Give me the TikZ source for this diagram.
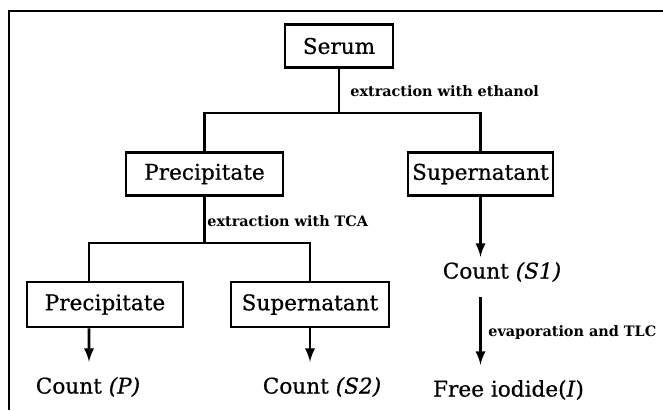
\documentclass[tikz,border=0pt]{standalone}
\usepackage{fontspec}
\setmainfont{DejaVu Serif}
\newfontfamily\labelfont{DejaVu Serif}[FakeBold=0.6]
\tikzset{
  box/.style={draw, line width=1.6pt, inner sep=0pt, minimum height=0.86cm, font=\labelfont\fontsize{12.3}{14}\selectfont},
  result/.style={inner sep=0pt, font=\labelfont\fontsize{12.3}{14}\selectfont},
  note/.style={inner sep=0pt, anchor=west, font=\bfseries\fontsize{8.2}{10}\selectfont},
  link/.style={line width=1.6pt},
  flow/.style={line width=1.6pt,->,>=latex}
}
\begin{document}
\begin{tikzpicture}
\useasboundingbox (0,0) rectangle (13.26,-8.2);
% frame
\draw [link] (13.26,-0.22) -- (0.18,-0.22) -- (0.18,-8.2);
% boxes
\node [box, minimum width=2.16cm] (serum) at (6.78,-0.92) {Serum};
\node [box, minimum width=3.14cm] (prec1) at (4.09,-3.48) {Precipitate};
\node [box, minimum width=2.90cm] (super1) at (9.61,-3.48) {Supernatant};
\node [box, minimum width=3.12cm, minimum height=0.9cm] (prec2) at (2.10,-6.09) {Precipitate};
\node [box, minimum width=3.16cm, minimum height=0.9cm] (super2) at (6.20,-6.09) {Supernatant};
% results
\node [result] (countP) at (1.76,-7.74) {Count \textit{(P)}};
\node [result] (countS2) at (6.44,-7.74) {Count \textit{(S2)}};
\node [result] (countS1) at (10.04,-5.44) {Count \textit{(S1)}};
\node [result] (iodide) at (10.17,-7.80) {Free iodide(\textit{I})};
% branches
\coordinate (split1) at (6.78,-2.26);
\coordinate (split2) at (4.09,-4.86);
\draw [link] (serum) -- (split1);
\draw [link] (prec1.north) |- (split1) -| (super1.north);
\draw [link] (prec1) -- (split2);
\draw [link] ([xshift=-0.32cm]prec2.north) |- (split2) -| (super2.north);
\node [note] at (7.0,-1.82) {extraction with ethanol};
\node [note] at (4.14,-4.42) {extraction with TCA};
% counts
\draw [flow, shorten >=0.3cm] ([xshift=-0.32cm]prec2.south) -- ([xshift=0.02cm]countP.north);
\draw [flow, shorten >=0.3cm] (super2.south) -- (super2.south |- countS2.north);
\draw [flow, shorten >=0.1cm] (super1.south) -- (super1.south |- countS1.north);
\draw [flow, shorten <=0.3cm, shorten >=0.3cm] (super1.south |- countS1.south) -- (super1.south |- iodide.north);
\node [note] at (9.76,-6.66) {evaporation and TLC};
\end{tikzpicture}
\end{document}
